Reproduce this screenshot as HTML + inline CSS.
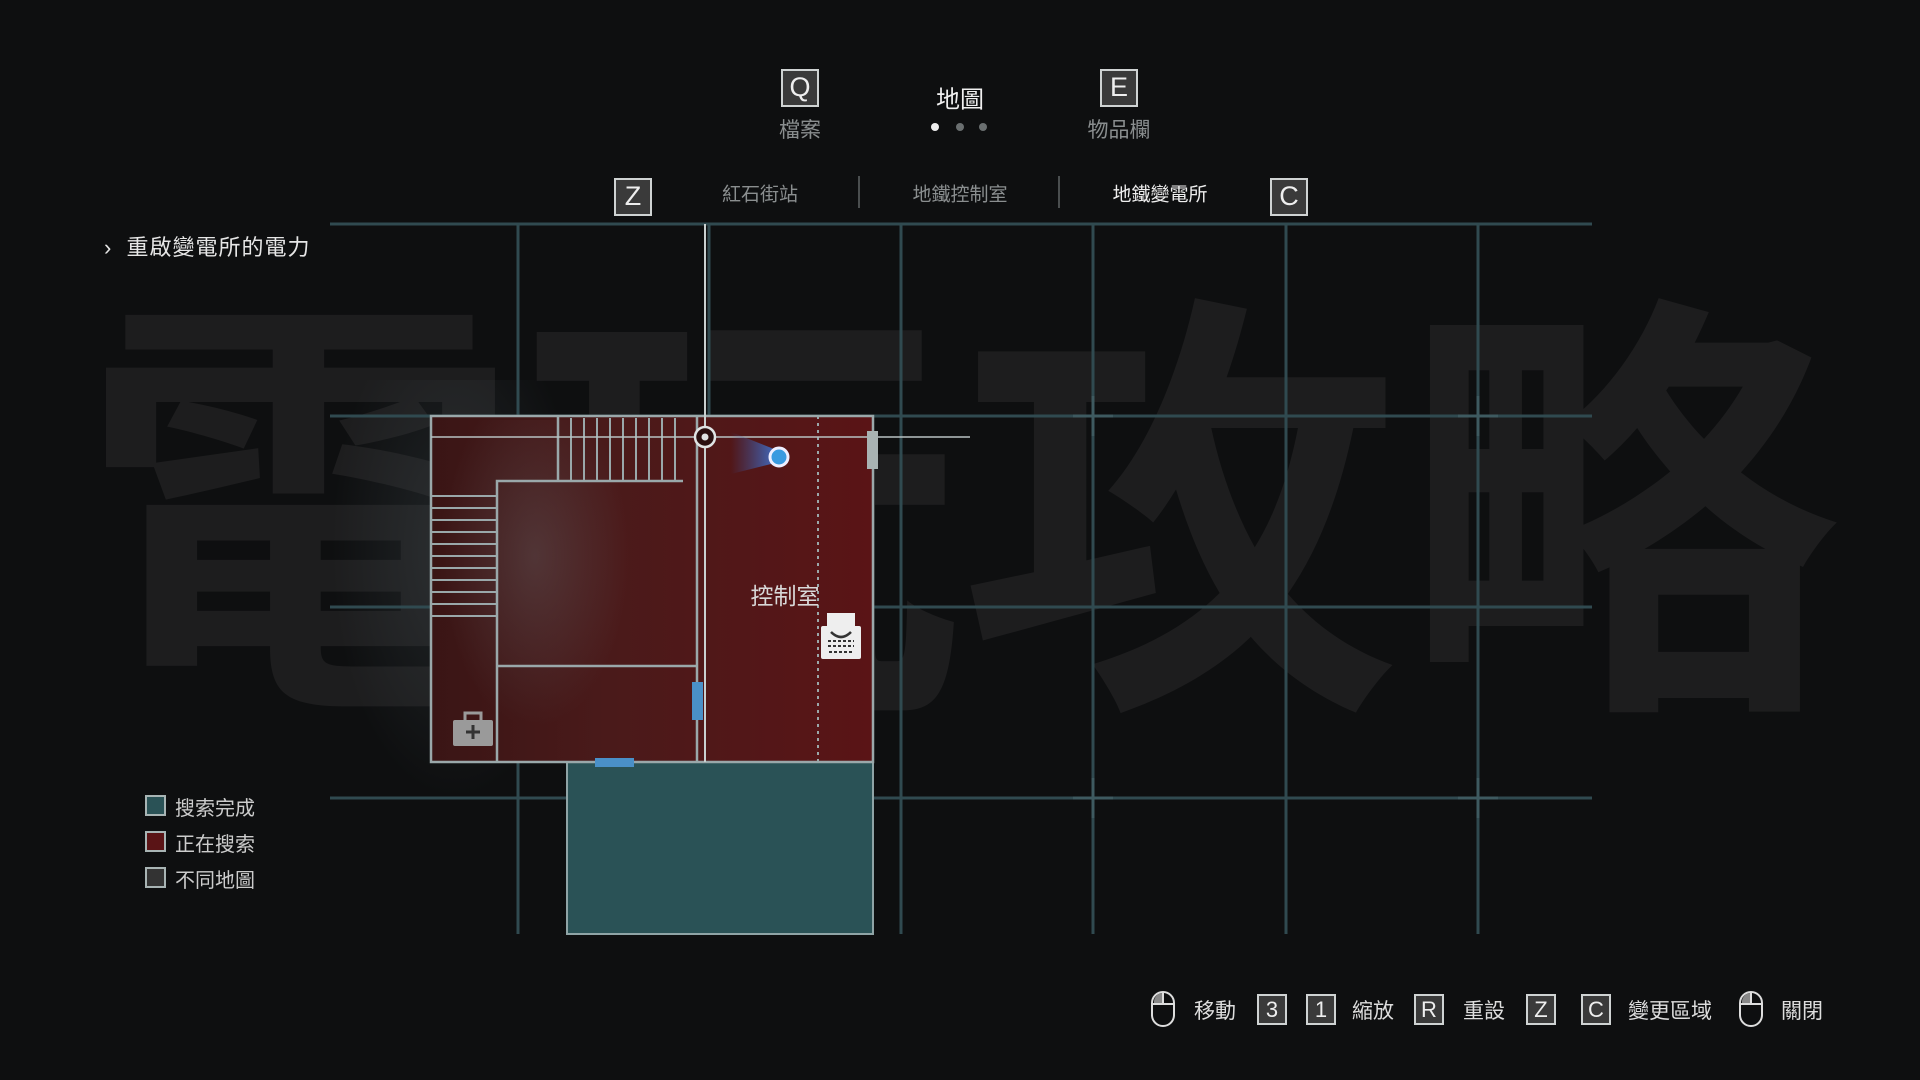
<!DOCTYPE html>
<html><head><meta charset="utf-8"><style>
*{margin:0;padding:0;box-sizing:border-box}
body{width:1920px;height:1080px;background:#0e0f10;overflow:hidden;position:relative;font-family:"Liberation Sans","Noto Sans CJK TC",sans-serif;color:#ddd}
.a{position:absolute}
.key{position:absolute;border:2px solid #cfd3d3;background:#3a3a3a;color:#eee;font-size:27px;text-align:center;line-height:33px;width:38px;height:38px}
.t{position:absolute;white-space:nowrap;transform:translate(-50%,-50%)}
.wm{position:absolute;left:80px;top:222px;font-size:440px;line-height:520px;color:#1d1d1e;font-weight:bold;font-family:"Noto Sans CJK TC",sans-serif;white-space:nowrap}
</style></head><body>
<div class="wm">電玩攻略</div>
<div class="a" style="left:330px;top:380px;width:250px;height:420px;background:radial-gradient(ellipse at 50% 40%,rgba(70,80,85,.35),rgba(0,0,0,0) 70%)"></div>

<svg class="a" style="left:0;top:0" width="1920" height="1080">
<g stroke="#304a50" stroke-width="3">
<line x1="330" y1="224" x2="1592" y2="224"/>
<line x1="518" y1="224" x2="518" y2="934"/><line x1="709" y1="224" x2="709" y2="934"/>
<line x1="901" y1="224" x2="901" y2="934"/><line x1="1093" y1="224" x2="1093" y2="934"/>
<line x1="1286" y1="224" x2="1286" y2="934"/><line x1="1478" y1="224" x2="1478" y2="934"/>
<line x1="330" y1="416" x2="1592" y2="416"/><line x1="330" y1="607" x2="1592" y2="607"/>
<line x1="330" y1="798" x2="1592" y2="798"/>
</g>
<g stroke="#3e5a60" stroke-width="3">
<path d="M1093 396v40M1073 416h40M1478 396v40M1458 416h40M1093 778v40M1073 798h40M1478 778v40M1458 798h40M709 778v40M689 798h40"/>
</g>
<rect x="567" y="762" width="306" height="172" fill="#2a5256" stroke="#8fa4a6" stroke-width="2"/>
<defs><linearGradient id="rg" x1="0" x2="1"><stop offset="0" stop-color="#3a1515"/><stop offset="0.4" stop-color="#4a1a1a"/><stop offset="1" stop-color="#5a1416"/></linearGradient>
<linearGradient id="cone" x1="0" x2="1"><stop offset="0" stop-color="#3b5aa8" stop-opacity="0"/><stop offset="1" stop-color="#3f73d0"/></linearGradient>
<radialGradient id="fog" cx="0.5" cy="0.4" r="0.5"><stop offset="0" stop-color="#6a6a6e" stop-opacity="0.35"/><stop offset="1" stop-color="#6a6a6e" stop-opacity="0"/></radialGradient></defs>
<rect x="431" y="416" width="442" height="346" fill="url(#rg)" stroke="#9aa8aa" stroke-width="2.5"/>
<rect x="440" y="420" width="190" height="340" fill="url(#fog)"/>
<g stroke="#9aa8aa" stroke-width="2.5" fill="none">
<line x1="697" y1="416" x2="697" y2="762"/>
<polyline points="497,762 497,481 683,481"/>
<line x1="497" y1="666" x2="697" y2="666"/>
<line x1="558" y1="416" x2="558" y2="481"/>
</g>
<g stroke="#9aa8aa" stroke-width="2">
<line x1="571" y1="418" x2="571" y2="480"/><line x1="584" y1="418" x2="584" y2="480"/><line x1="597" y1="418" x2="597" y2="480"/><line x1="610" y1="418" x2="610" y2="480"/><line x1="623" y1="418" x2="623" y2="480"/><line x1="636" y1="418" x2="636" y2="480"/><line x1="649" y1="418" x2="649" y2="480"/><line x1="662" y1="418" x2="662" y2="480"/><line x1="675" y1="418" x2="675" y2="480"/>
<line x1="432" y1="496" x2="496" y2="496"/><line x1="432" y1="508" x2="496" y2="508"/><line x1="432" y1="520" x2="496" y2="520"/><line x1="432" y1="532" x2="496" y2="532"/><line x1="432" y1="544" x2="496" y2="544"/><line x1="432" y1="556" x2="496" y2="556"/><line x1="432" y1="568" x2="496" y2="568"/><line x1="432" y1="580" x2="496" y2="580"/><line x1="432" y1="592" x2="496" y2="592"/><line x1="432" y1="604" x2="496" y2="604"/><line x1="432" y1="616" x2="496" y2="616"/>
</g>
<g stroke="#9aa8aa" stroke-width="2" stroke-dasharray="3,4">
<line x1="497" y1="666" x2="497" y2="762"/><line x1="818" y1="416" x2="818" y2="762"/>
</g>
<line x1="705" y1="224" x2="705" y2="762" stroke="#c9d0d0" stroke-width="2"/>
<line x1="431" y1="437" x2="970" y2="437" stroke="#b8c2c2" stroke-width="1.5"/>
<circle cx="705" cy="437" r="10" fill="#2a1010" stroke="#e0e4e4" stroke-width="2.5"/>
<circle cx="705" cy="437" r="3.5" fill="#e0e4e4"/>
<polygon points="731,432 779,451 779,462 731,474" fill="url(#cone)"/>
<circle cx="779" cy="457" r="9" fill="#3a9ae0" stroke="#eef" stroke-width="3"/>
<rect x="867" y="431" width="11" height="38" fill="#a9b3b3"/>
<rect x="692" y="682" width="11" height="38" fill="#4a90c8"/>
<rect x="595" y="758" width="39" height="9" fill="#4a90c8"/>
<rect x="453" y="720" width="40" height="26" rx="2" fill="#9a9a9a"/>
<rect x="465" y="713" width="16" height="9" fill="none" stroke="#9a9a9a" stroke-width="3"/>
<path d="M473 725v14M466 732h14" stroke="#333" stroke-width="3"/>
<rect x="827" y="613" width="28" height="16" fill="#eee"/>
<rect x="821" y="626" width="40" height="33" rx="2" fill="#eee"/>
<path d="M831 632q10 10 20 0" stroke="#333" stroke-width="2.5" fill="none"/>
<path d="M828 641h26M828 646h26M829 652h24" stroke="#333" stroke-width="2" stroke-dasharray="3,2"/>
</svg>
<div class="t" style="left:785px;top:594px;font-size:23px;color:#d8d8d8">控制室</div>

<div class="key" style="left:781px;top:69px;width:38px">Q</div>
<div class="t" style="left:800px;top:129px;font-size:21px;color:#8a8e8f">檔案</div>
<div class="t" style="left:960px;top:97px;font-size:24px;color:#f0f0f0">地圖</div>
<div class="a" style="left:931px;top:123px;width:8px;height:8px;border-radius:50%;background:#eee"></div>
<div class="a" style="left:956px;top:123px;width:8px;height:8px;border-radius:50%;background:#6a6f70"></div>
<div class="a" style="left:979px;top:123px;width:8px;height:8px;border-radius:50%;background:#6a6f70"></div>
<div class="key" style="left:1100px;top:69px">E</div>
<div class="t" style="left:1119px;top:129px;font-size:21px;color:#8a8e8f">物品欄</div>

<div class="key" style="left:614px;top:178px">Z</div>
<div class="t" style="left:760px;top:193px;font-size:19px;color:#8a8e8f">紅石街站</div>
<div class="a" style="left:858px;top:176px;width:2px;height:32px;background:#4a4e4f"></div>
<div class="t" style="left:960px;top:193px;font-size:19px;color:#8a8e8f">地鐵控制室</div>
<div class="a" style="left:1058px;top:176px;width:2px;height:32px;background:#4a4e4f"></div>
<div class="t" style="left:1160px;top:193px;font-size:19px;color:#eee">地鐵變電所</div>
<div class="key" style="left:1270px;top:178px">C</div>

<div class="a" style="left:104px;top:230px;font-size:22px;color:#e6e6e6;letter-spacing:1px">›&nbsp; 重啟變電所的電力</div>

<div class="a" style="left:145px;top:795px;width:21px;height:21px;background:#2a5256;border:2px solid #a8b4b4"></div>
<div class="a" style="left:175px;top:792px;font-size:20px;color:#ccc">搜索完成</div>
<div class="a" style="left:145px;top:831px;width:21px;height:21px;background:#5a1416;border:2px solid #a8b4b4"></div>
<div class="a" style="left:175px;top:828px;font-size:20px;color:#ccc">正在搜索</div>
<div class="a" style="left:145px;top:867px;width:21px;height:21px;background:#333;border:2px solid #a8b4b4"></div>
<div class="a" style="left:175px;top:864px;font-size:20px;color:#ccc">不同地圖</div>

<svg class="a" style="left:1150px;top:990px" width="26" height="38"><rect x="2" y="2" width="22" height="34" rx="11" fill="none" stroke="#ddd" stroke-width="2"/><path d="M3 14h20" stroke="#ddd" stroke-width="2"/><path d="M13 2v12" stroke="#ddd" stroke-width="2"/><path d="M4 13a9 9 0 0 1 8-10v10z" fill="#888"/></svg>
<div class="t" style="left:1215px;top:1010px;font-size:21px;color:#ddd">移動</div>
<div class="key" style="left:1257px;top:994px;width:30px;height:31px;line-height:27px;font-size:22px">3</div>
<div class="key" style="left:1306px;top:994px;width:30px;height:31px;line-height:27px;font-size:22px">1</div>
<div class="t" style="left:1373px;top:1010px;font-size:21px;color:#ddd">縮放</div>
<div class="key" style="left:1414px;top:994px;width:30px;height:31px;line-height:27px;font-size:22px">R</div>
<div class="t" style="left:1484px;top:1010px;font-size:21px;color:#ddd">重設</div>
<div class="key" style="left:1526px;top:994px;width:30px;height:31px;line-height:27px;font-size:22px">Z</div>
<div class="key" style="left:1581px;top:994px;width:30px;height:31px;line-height:27px;font-size:22px">C</div>
<div class="t" style="left:1670px;top:1010px;font-size:21px;color:#ddd">變更區域</div>
<svg class="a" style="left:1738px;top:990px" width="26" height="38"><rect x="2" y="2" width="22" height="34" rx="11" fill="none" stroke="#ddd" stroke-width="2"/><path d="M3 14h20" stroke="#ddd" stroke-width="2"/><path d="M13 2v12" stroke="#ddd" stroke-width="2"/><path d="M4 13a9 9 0 0 1 8-10v10z" fill="#888"/></svg>
<div class="t" style="left:1802px;top:1010px;font-size:21px;color:#ddd">關閉</div>
</body></html>
